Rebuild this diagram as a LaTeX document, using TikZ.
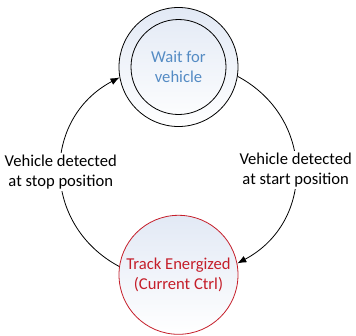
\documentclass[tikz,border=0pt]{standalone}
\usepackage{fontspec}
\setmainfont{Carlito}
\usetikzlibrary{positioning,arrows.meta}
\definecolor{statefill}{RGB}{226,233,245}
\definecolor{waitblue}{RGB}{84,139,196}
\definecolor{trackred}{RGB}{197,30,42}

\begin{document}
\begin{tikzpicture}[node distance=88pt, >={Latex[length=9pt,width=7pt]}, line width=0.8pt,
    every node/.style={
            font=\fontsize{16.6}{20}\selectfont,
            align=center
        },
        state/.style={
            circle,
            draw,
            minimum size=119pt,
            inner sep=0pt,
            top color=statefill,
            bottom color=white
        },
        initstate/.style={
            state,
            path picture={
                \draw (path picture bounding box.center) circle (47.5pt);
            }
        },
        edgelabel/.style={fill=white, inner sep=2pt}
]

    \useasboundingbox (0,0) rectangle (356pt,-335pt);

    \node [initstate, text=waitblue] (wait) at (178.5pt,-67pt) {Wait for\\vehicle};
    \node [state, draw=trackred, text=trackred, below=of wait] (track) {Track Energized\\(Current Ctrl)};

    \draw [->] (wait.-9) to [bend left=62, looseness=1.2]
        node [edgelabel, midway] {Vehicle detected\\at start position} (track.11);
    \draw [->] (track.172) to [bend left=62, looseness=1.2]
        node [edgelabel, midway] {Vehicle detected\\at stop position} (wait.190);
    %\draw [->] (track) -- (wait);
\end{tikzpicture}
\end{document}
